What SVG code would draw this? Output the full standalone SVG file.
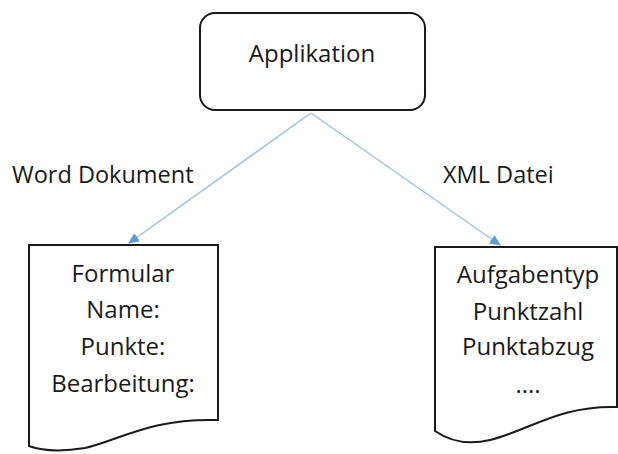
<svg xmlns="http://www.w3.org/2000/svg" width="618" height="454" viewBox="0 0 618 454">
<defs>
<marker id="arr" markerWidth="12" markerHeight="10" refX="10" refY="5" orient="auto" markerUnits="userSpaceOnUse">
<path d="M0,0 L11,5 L0,10 Z" fill="#5B9BD5"/>
</marker>
<style>
.t{font-family:"Open Sans","Liberation Sans",sans-serif;font-size:24px;fill:#1a1a1a;text-anchor:middle}
.l{font-family:"Open Sans","Liberation Sans",sans-serif;font-size:23.5px;fill:#1a1a1a}
.box{fill:#fff;stroke:#1a1a1a;stroke-width:2}
.con{stroke:#9DC3E6;stroke-width:1.5;fill:none}
</style>
</defs>
<rect width="618" height="454" fill="#fff"/>
<g id="connectors">
<line class="con" x1="311" y1="113" x2="129" y2="243" marker-end="url(#arr)"/>
<line class="con" x1="311" y1="113" x2="500" y2="245" marker-end="url(#arr)"/>
</g>
<g id="applikation">
<rect class="box" x="200" y="13" width="225" height="97" rx="15"/>
<text class="t" x="312" y="62">Applikation</text>
</g>
<g id="word-label"><text class="l" x="12" y="183">Word Dokument</text></g>
<g id="xml-label"><text class="l" x="443" y="183">XML Datei</text></g>
<g id="formular">
<path class="box" d="M29,245 L218,245 L218,420 C150,418 120,440 85,448 C60,452 40,450 29,446 Z"/>
<text class="t" x="123" y="282">Formular</text>
<text class="t" x="123" y="318">Name:</text>
<text class="t" x="123" y="355">Punkte:</text>
<text class="t" x="123" y="392">Bearbeitung:</text>
</g>
<g id="xml">
<path class="box" d="M435,247 L617,247 L617,407 C560,405 530,430 490,440 C465,446 448,440 435,431 Z"/>
<text class="t" x="528" y="283">Aufgabentyp</text>
<text class="t" x="528" y="320">Punktzahl</text>
<text class="t" x="528" y="355">Punktabzug</text>
<text class="t" x="528" y="393">....</text>
</g>
</svg>
